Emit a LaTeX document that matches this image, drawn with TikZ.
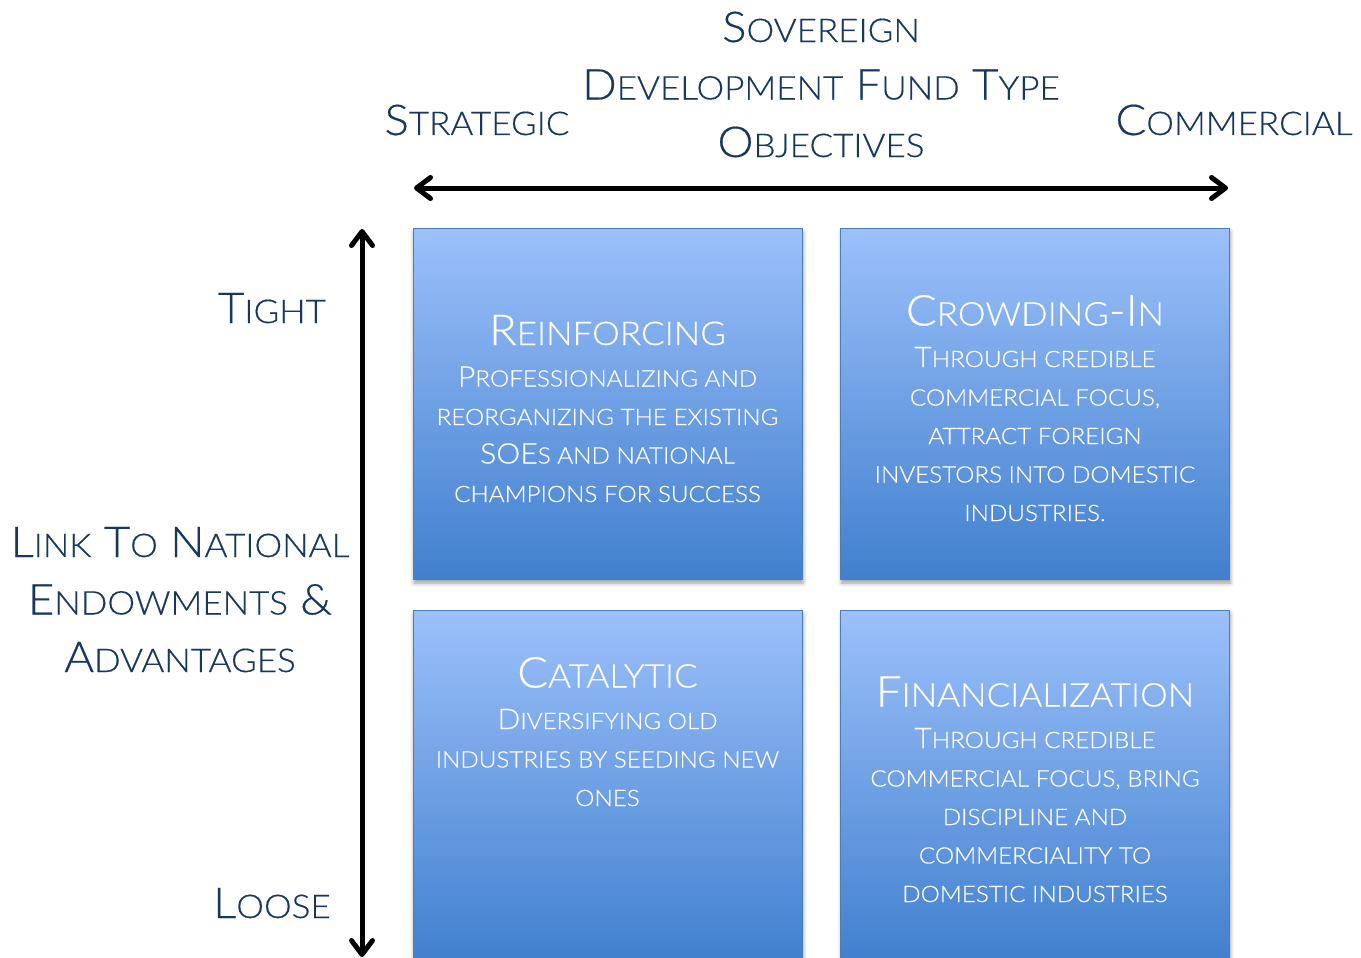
\documentclass[tikz,border=0pt]{standalone}
\usepackage{fontspec}
\setmainfont[FakeStretch=1.07,FakeBold=0.4]{Lato Light}
\usetikzlibrary{arrows.meta,shadows.blur}
\definecolor{navy}{HTML}{17375E}
\definecolor{celltop}{HTML}{9CC0FA}
\definecolor{cellbot}{HTML}{4180CE}
\definecolor{cellrule}{HTML}{4A7EBB}
% faked small capitals: lower-case part set in reduced upper case
\newcommand\lcr{0.77}
\makeatletter
\newcommand\lc[1]{{\fontsize{\fpeval{\lcr*\f@size}}{\f@baselineskip}\selectfont #1}}
\makeatother
\tikzset{
  cell/.style={rectangle, draw=cellrule, line width=1pt, inner sep=0pt,
    top color=celltop, bottom color=cellbot,
    minimum width=389pt, minimum height=351pt,
    blur shadow={shadow xshift=1pt, shadow yshift=-4pt, shadow blur radius=4pt, shadow opacity=40}},
  celltext/.style={text=white, align=center, inner sep=0pt, anchor=base,
    font=\renewcommand\lcr{0.8}\fontsize{28.3}{38.5}\selectfont},
  heading/.style={text=navy, align=center, inner sep=0pt, anchor=base,
    font=\fontsize{42.5}{57.5}\selectfont},
  barb/.tip={Straight Barb[length=14pt,width=21pt,round]},
  axis/.style={line width=5pt, line cap=round, barb-barb}
}
\newcommand\ttl[1]{{\renewcommand\lcr{0.77}\fontsize{42.5}{38.5}\selectfont #1}}
\begin{document}
\begin{tikzpicture}[x=1pt,y=-1pt]
\useasboundingbox (0,0) rectangle (1361,958);
\clip (0,0) rectangle (1361,958);

% the four quadrants
\node[cell] (b1) at (607.5,403.5) {};
\node[cell] (b2) at (1035,403.5) {};
\node[cell] (b3) at (607.5,785.5) {};
\node[cell] (b4) at (1035,785.5) {};

% quadrant texts, placed by the baseline of their last line
\node[celltext] (t1) at (607.5,502) {\ttl{R\lc{EINFORCING}}\\[3pt]
  P\lc{ROFESSIONALIZING AND}\\ \lc{REORGANIZING THE EXISTING}\\
  SOE\lc{S AND NATIONAL}\\ \lc{CHAMPIONS FOR SUCCESS}};
\node[celltext] (t2) at (1035,521) {\ttl{C\lc{ROWDING}-I\lc{N}}\\[3pt]
  T\lc{HROUGH CREDIBLE}\\ \lc{COMMERCIAL FOCUS,}\\ \lc{ATTRACT FOREIGN}\\
  \lc{INVESTORS INTO DOMESTIC}\\ \lc{INDUSTRIES.}};
\node[celltext] (t3) at (607.5,806) {\ttl{C\lc{ATALYTIC}}\\[3pt]
  D\lc{IVERSIFYING OLD}\\ \lc{INDUSTRIES BY SEEDING NEW}\\ \lc{ONES}};
\node[celltext] (t4) at (1035,902) {\ttl{F\lc{INANCIALIZATION}}\\[3pt]
  T\lc{HROUGH CREDIBLE}\\ \lc{COMMERCIAL FOCUS, BRING}\\ \lc{DISCIPLINE AND}\\
  \lc{COMMERCIALITY TO}\\ \lc{DOMESTIC INDUSTRIES}};

% axes
\coordinate (hl) at (414,188);
\coordinate (hr) at (1228,188);
\coordinate (vt) at (362,229);
\coordinate (vb) at (362,957);
\draw[axis] (hl) -- (hr);
\draw[axis] (vt) -- (vb);

% axis captions
\node[heading] (title) at (821,157) {S\lc{OVEREIGN}\\ D\lc{EVELOPMENT} F\lc{UND} T\lc{YPE}\\ O\lc{BJECTIVES}};
\node[heading] (strat) at (477,135) {S\lc{TRATEGIC}};
\node[heading] (comm) at (1234,135) {C\lc{OMMERCIAL}};
\node[heading] (tight) at (272,323) {T\lc{IGHT}};
\node[heading] (loose) at (272,918) {L\lc{OOSE}};
\node[heading] (link) at (180,672) {L\lc{INK} T\lc{O} N\lc{ATIONAL}\\ E\lc{NDOWMENTS} \&\hspace*{14pt}\\ A\lc{DVANTAGES}};
\end{tikzpicture}
\end{document}
